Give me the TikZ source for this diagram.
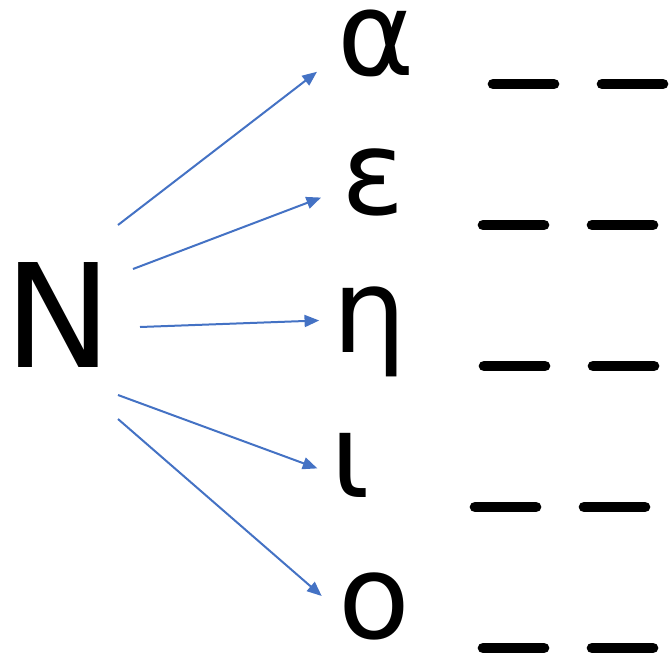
\documentclass[tikz,border=0pt]{standalone}
\usepackage{fontspec}
\setmainfont{DejaVu Sans}
\usetikzlibrary{arrows.meta}
\definecolor{arrowblue}{RGB}{68,114,196}

\begin{document}
\begin{tikzpicture}[
		x=0.75pt, y=-0.75pt,
		letter/.style={inner sep=0pt, text depth=0pt, font=\fontsize{88}{88}\selectfont},
		bigletter/.style={inner sep=0pt, text depth=0pt, font=\fontsize{108}{108}\selectfont},
		arrowstyle/.style={-{Triangle[length=11pt, width=9pt]}, line width=1.5pt, arrowblue},
		blank/.style={line width=8pt, line cap=round, black}
	]
	\useasboundingbox (0,0) rectangle (671,657);
	% source letter
	\node[bigletter] (N) at (58,315) {N};
	% targets
	\node[letter] (alpha) at (376,43) {α};
	\node[letter] (epsilon) at (373,182) {ε};
	\node[letter] (eta) at (370,320) {η};
	\node[letter] (iota) at (350,465) {ι};
	\node[letter] (omicron) at (374,606) {ο};
	% arrow tails
	\coordinate (t1) at (118,225);
	\coordinate (t2) at (133,269);
	\coordinate (t3) at (140,327);
	\coordinate (t4) at (118,395);
	\coordinate (t5) at (118,419);
	\draw[arrowstyle, shorten >=19pt] (t1) -- ([yshift=-10pt]alpha.west);
	\draw[arrowstyle, shorten >=16pt] (t2) -- ([yshift=-6pt]epsilon.west);
	\draw[arrowstyle, shorten >=10pt] (t3) -- (eta.west);
	\draw[arrowstyle, shorten >=10pt] (t4) -- ([yshift=-6pt]iota.west);
	\draw[arrowstyle, shorten >=16pt] (t5) -- ([yshift=-3pt]omicron.west);
	% blanks
	\foreach \y/\xa in {84/487, 225/477, 366/478, 507/469, 648/477} {
		\draw[blank] (\xa+6,\y) -- ++(61,0);
		\draw[blank] (\xa+115,\y) -- ++(61,0);
	}
\end{tikzpicture}
\end{document}
